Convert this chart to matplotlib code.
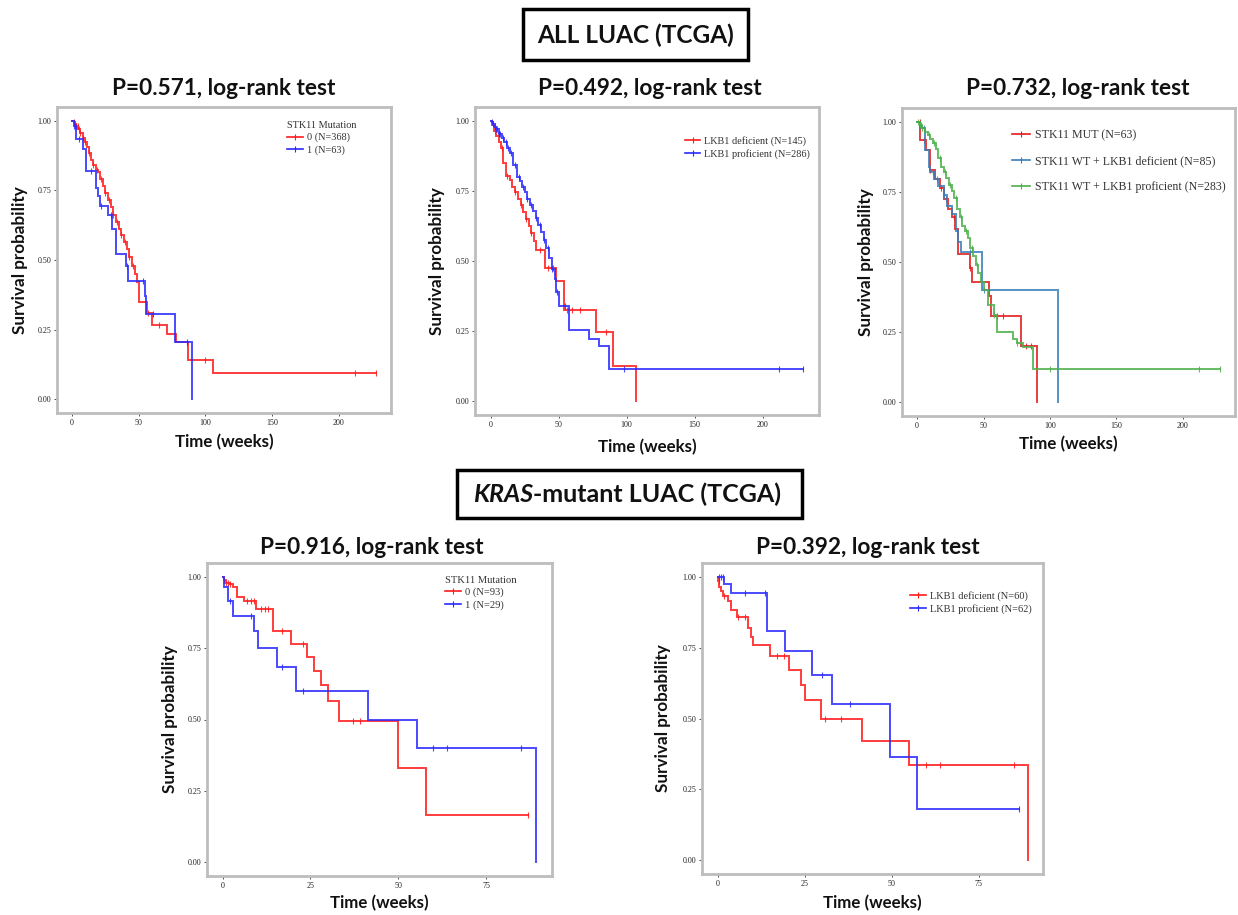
import numpy as np
import matplotlib
matplotlib.use("Agg")
import matplotlib.pyplot as plt
from matplotlib.patches import Rectangle
from matplotlib.lines import Line2D

W, H = 1238, 915

# ---------------- data ----------------
# Panel 1: ALL LUAC, STK11 mutation
p1_red_t = [0, 1, 2, 3, 4.5, 6, 8, 9.5, 11, 12.5, 14.5, 16, 18, 19.5, 21, 23, 25, 27, 29, 31, 33, 35,
            37, 39, 41, 43, 45, 47, 49, 50, 56, 60, 71, 78, 87, 106]
p1_red_s = [1.0, 0.995, 0.99, 0.98, 0.97, 0.955, 0.94, 0.925, 0.905, 0.885, 0.86, 0.84, 0.825, 0.815,
            0.79, 0.765, 0.74, 0.715, 0.69, 0.66, 0.635, 0.61, 0.59, 0.565, 0.54, 0.51, 0.48, 0.45, 0.42,
            0.35, 0.31, 0.265, 0.235, 0.205, 0.14, 0.095]
p1_red_end = 228
p1_red_cens = [1, 2, 3, 4, 5, 6, 8, 10, 13, 16, 19, 22, 25, 28, 31, 34, 37, 40, 43, 46, 57, 65, 100, 212, 228]
p1_blue_t = [0, 1, 3, 8, 10.5, 18, 19.5, 21, 27, 30, 33, 40.3, 41.6, 54.5, 55.7, 77.5, 90]
p1_blue_s = [1.0, 0.98, 0.936, 0.90, 0.82, 0.76, 0.73, 0.694, 0.66, 0.612, 0.522, 0.48, 0.426, 0.372,
             0.306, 0.204, 0.0]
p1_blue_end = 90
p1_blue_cens = [1, 2, 5, 14, 22, 29, 41, 53, 61, 86]

# Panel 2: ALL LUAC, LKB1 status
p2_red_t = [0, 1, 2.5, 4, 6, 7.5, 9, 11, 14, 16, 18, 20, 22, 24, 26, 28, 30, 32, 33.5, 39.7, 48, 54,
            77.6, 90, 107]
p2_red_s = [1.0, 0.985, 0.965, 0.945, 0.925, 0.905, 0.85, 0.805, 0.79, 0.765, 0.745, 0.72, 0.70, 0.675,
            0.65, 0.625, 0.60, 0.57, 0.54, 0.475, 0.43, 0.325, 0.245, 0.125, 0.0]
p2_red_end = 107
p2_red_cens = [3, 8, 12, 18, 22, 26, 30, 36, 42, 46, 56, 60, 66, 85]
p2_blue_t = [0, 1, 2, 3, 4, 6, 8, 10, 12, 14, 16.4, 19.6, 21.3, 23, 25, 27, 29, 31, 33, 35, 37, 39, 41,
             43, 45, 47, 48.2, 50, 58, 72.7, 80, 87.4]
p2_blue_s = [1.0, 0.995, 0.99, 0.98, 0.97, 0.955, 0.94, 0.925, 0.905, 0.885, 0.843, 0.80, 0.785, 0.765,
             0.745, 0.72, 0.70, 0.68, 0.655, 0.63, 0.605, 0.575, 0.545, 0.51, 0.47, 0.435, 0.39, 0.34,
             0.255, 0.22, 0.196, 0.113]
p2_blue_end = 230
p2_blue_cens = [1, 2, 3, 4, 5, 6, 7, 9, 11, 13, 15, 18, 21, 24, 27, 30, 33, 36, 39, 42, 45, 49, 55, 98,
                212, 230]

# Panel 3: ALL LUAC, three groups
p3_red_t = [0, 2.5, 7, 10, 13.75, 17.5, 20, 23, 26, 28.75, 31, 40, 41, 54, 55.5, 78, 90.5]
p3_red_s = [1.0, 0.937, 0.90, 0.83, 0.795, 0.765, 0.724, 0.688, 0.66, 0.617, 0.528, 0.477, 0.43, 0.38,
            0.306, 0.20, 0.0]
p3_red_end = 90.5
p3_red_cens = [2, 5, 10, 18, 22, 28, 40, 60, 65, 82, 86]
p3_blue_t = [0, 2, 6.25, 8.75, 10, 12.5, 16, 20, 22.5, 26, 29.5, 31, 33, 48.75, 106]
p3_blue_s = [1.0, 0.98, 0.90, 0.84, 0.82, 0.795, 0.77, 0.74, 0.70, 0.67, 0.61, 0.57, 0.534, 0.40, 0.0]
p3_blue_end = 106
p3_blue_cens = [5, 12, 15, 20, 30, 40, 50]
p3_green_t = [0, 2, 4, 6, 8, 10, 12, 14, 16, 18, 20, 22, 24, 26, 28, 30, 32, 34, 36, 38, 40, 42, 44,
              46, 48, 50, 53, 58, 60, 72, 75, 80, 87]
p3_green_s = [1.0, 0.99, 0.98, 0.965, 0.955, 0.94, 0.925, 0.905, 0.87, 0.84, 0.82, 0.80, 0.775, 0.755,
              0.73, 0.69, 0.66, 0.63, 0.61, 0.585, 0.55, 0.52, 0.49, 0.46, 0.43, 0.40, 0.345, 0.31, 0.25,
              0.225, 0.21, 0.195, 0.117]
p3_green_end = 228
p3_green_cens = [1, 2, 3, 4, 6, 9, 13, 17, 21, 25, 29, 33, 37, 41, 45, 56, 58, 75, 100, 212, 228]

# Panel 4: KRAS-mutant, STK11 mutation
p4_red_t = [0, 0.5, 1, 2, 3, 4, 6, 9.5, 14.3, 19.5, 24, 26, 28, 30, 33, 50, 58]
p4_red_s = [1.0, 0.99, 0.98, 0.975, 0.965, 0.93, 0.915, 0.89, 0.81, 0.765, 0.72, 0.67, 0.62, 0.565,
            0.495, 0.33, 0.165]
p4_red_end = 87
p4_red_cens = [0.5, 1, 1.5, 2, 7, 8, 9, 11, 12, 13, 17, 23, 37, 39, 87]
p4_blue_t = [0, 0.3, 1.5, 3, 9, 10, 15.5, 21, 41.5, 55.3, 89.3]
p4_blue_s = [1.0, 0.965, 0.915, 0.865, 0.81, 0.75, 0.685, 0.60, 0.50, 0.40, 0.0]
p4_blue_end = 89.3
p4_blue_cens = [2, 8, 17, 23, 60, 64, 85]

# Panel 5: KRAS-mutant, LKB1 status
p5_red_t = [0, 0.2, 0.5, 1, 1.5, 3, 4, 5.5, 8.7, 9.5, 10.3, 15.2, 20.5, 24, 25, 29.7, 41.5, 55, 89]
p5_red_s = [1.0, 0.985, 0.965, 0.95, 0.935, 0.915, 0.885, 0.86, 0.82, 0.79, 0.76, 0.72, 0.67, 0.62,
            0.565, 0.50, 0.42, 0.335, 0.0]
p5_red_end = 89
p5_red_cens = [0.3, 2, 6, 8, 17, 19, 31, 35.5, 60, 64, 85]
p5_blue_t = [0, 2, 4, 14.3, 19.3, 27, 32.8, 49.5, 57.3]
p5_blue_s = [1.0, 0.975, 0.945, 0.81, 0.74, 0.655, 0.55, 0.365, 0.18]
p5_blue_end = 86.5
p5_blue_cens = [0.5, 1, 1.5, 8, 13.5, 30, 38, 86.5]

p1_labels = ["0 (N=368)", "1 (N=63)"]
p2_labels = ["LKB1 deficient (N=145)", "LKB1 proficient (N=286)"]
p3_labels = ["STK11 MUT (N=63)", "STK11 WT + LKB1 deficient (N=85)", "STK11 WT + LKB1 proficient (N=283)"]
p4_labels = ["0 (N=93)", "1 (N=29)"]
p5_labels = ["LKB1 deficient (N=60)", "LKB1 proficient (N=62)"]
titles = ["P=0.571, log-rank test", "P=0.492, log-rank test", "P=0.732, log-rank test",
          "P=0.916, log-rank test", "P=0.392, log-rank test"]
yticks = [0.0, 0.25, 0.5, 0.75, 1.0]
xticks_all = [0, 50, 100, 150, 200]
xticks_kras = [0, 25, 50, 75]

RED, BLUE = "#ff1a1a", "#2a2aff"
S_RED, S_BLUE, S_GREEN = "#e41a1c", "#377eb8", "#4daf4a"
SANS = "Lato"
SERIF = "Liberation Serif"

fig = plt.figure(figsize=(W / 100, H / 100), dpi=100)


def ax_at(l, r, t, b):
    return fig.add_axes([l / W, 1 - b / H, (r - l) / W, (b - t) / H])


def surv_at(t_list, s_list, x):
    idx = np.searchsorted(np.asarray(t_list), x, side="right") - 1
    return np.asarray(s_list)[idx]


def curve(ax, t, s, end, cens, color):
    tt = list(t) + [end]
    ss = list(s) + [s[-1]]
    ax.step(tt, ss, where="post", color=color, lw=1.4, alpha=0.85, solid_joinstyle="miter")
    cx = np.asarray(cens, dtype=float)
    ax.plot(cx, surv_at(t, s, cx), ls="none", marker="|", ms=4, mew=0.8, color=color, alpha=0.85)


def style(ax, xmax, xticks, title, title_xy, xlabel_y, ylabel_x):
    ax.set_xlim(-0.05 * xmax, 1.05 * xmax)
    ax.set_ylim(-0.05, 1.05)
    ax.set_xticks(xticks)
    ax.set_yticks(yticks)
    ax.set_xticklabels([str(v) for v in xticks], fontfamily=SERIF, fontsize=5.8, color="#222222")
    ax.set_yticklabels(["%.2f" % v for v in yticks], fontfamily=SERIF, fontsize=5.8, color="#222222")
    ax.tick_params(length=2, width=0.6, color="#333333", pad=2)
    for sp in ax.spines.values():
        sp.set_color("#bdbdbd")
        sp.set_linewidth(2.0)
    bb = ax.get_position()
    fig.text(title_xy[0] / W, 1 - title_xy[1] / H, title, ha="center", va="center",
             fontfamily=SANS, fontweight="bold", fontsize=16.3, color="#111111")
    fig.text((bb.x0 + bb.x1) / 2, 1 - xlabel_y / H, "Time (weeks)", ha="center", va="center",
             fontfamily=SANS, fontweight="bold", fontsize=12.2, color="#111111")
    fig.text(ylabel_x / W, (bb.y0 + bb.y1) / 2, "Survival probability", ha="center", va="center",
             rotation=90, fontfamily=SANS, fontweight="bold", fontsize=12.3, color="#111111")


def legend(ax, labels, colors, x, y, title=None, size=7.2, spacing=0.3):
    handles = [Line2D([0], [0], color=c, lw=1.2, marker="|", ms=4, mew=0.8) for c in colors]
    lg = ax.legend(handles, labels, loc="upper left", bbox_to_anchor=(x, y), frameon=False,
                   title=title, prop={"family": SERIF, "size": size}, handlelength=1.5,
                   handletextpad=0.4, labelspacing=spacing, borderpad=0, borderaxespad=0)
    if title:
        lg.get_title().set_fontfamily(SERIF)
        lg.get_title().set_fontsize(size)
        lg.get_title().set_color("#333333")
        lg._legend_box.align = "left"
    for txt in lg.get_texts():
        txt.set_color("#333333")


# Panel 1
ax1 = ax_at(57, 391, 107, 413)
curve(ax1, p1_red_t, p1_red_s, p1_red_end, p1_red_cens, RED)
curve(ax1, p1_blue_t, p1_blue_s, p1_blue_end, p1_blue_cens, BLUE)
style(ax1, 228, xticks_all, titles[0], (224, 88), 442, 20)
legend(ax1, p1_labels, [RED, BLUE], 0.69, 0.955, title="STK11 Mutation", size=7.4)

# Panel 2
ax2 = ax_at(475, 819, 107, 415)
curve(ax2, p2_red_t, p2_red_s, p2_red_end, p2_red_cens, RED)
curve(ax2, p2_blue_t, p2_blue_s, p2_blue_end, p2_blue_cens, BLUE)
style(ax2, 230, xticks_all, titles[1], (650, 88), 447, 437)
legend(ax2, p2_labels, [RED, BLUE], 0.61, 0.905, size=7.4)

# Panel 3
ax3 = ax_at(902, 1235, 108, 416)
curve(ax3, p3_red_t, p3_red_s, p3_red_end, p3_red_cens, S_RED)
curve(ax3, p3_blue_t, p3_blue_s, p3_blue_end, p3_blue_cens, S_BLUE)
curve(ax3, p3_green_t, p3_green_s, p3_green_end, p3_green_cens, S_GREEN)
style(ax3, 228, xticks_all, titles[2], (1078, 88), 444, 866)
legend(ax3, p3_labels, [S_RED, S_BLUE, S_GREEN], 0.33, 0.93, size=8.6, spacing=1.15)

# Panel 4
ax4 = ax_at(207, 552, 563, 876)
curve(ax4, p4_red_t, p4_red_s, p4_red_end, p4_red_cens, RED)
curve(ax4, p4_blue_t, p4_blue_s, p4_blue_end, p4_blue_cens, BLUE)
style(ax4, 89.3, xticks_kras, titles[3], (372, 548), 903, 170)
legend(ax4, p4_labels, [RED, BLUE], 0.69, 0.96, title="STK11 Mutation", size=7.6)

# Panel 5
ax5 = ax_at(702, 1043, 563, 874)
curve(ax5, p5_red_t, p5_red_s, p5_red_end, p5_red_cens, RED)
curve(ax5, p5_blue_t, p5_blue_s, p5_blue_end, p5_blue_cens, BLUE)
style(ax5, 89, xticks_kras, titles[4], (868, 548), 903, 663)
legend(ax5, p5_labels, [RED, BLUE], 0.61, 0.91, size=7.5)

# Header boxes
fig.text(635.5 / W, 1 - 35 / H, "ALL LUAC (TCGA)", ha="center", va="center",
         fontfamily=SANS, fontweight="bold", fontsize=17.6, color="#111111")
fig.patches.append(Rectangle((523 / W, 1 - 60 / H), (748 - 523) / W, (60 - 9) / H,
                             transform=fig.transFigure, fill=False, lw=2.5, ec="black"))

renderer = fig.canvas.get_renderer()
t_it = fig.text(0, 1 - 494 / H, "KRAS", ha="left", va="center", fontfamily=SANS,
                fontweight="bold", fontstyle="italic", fontsize=18, color="#111111")
t_rest = fig.text(0, 1 - 494 / H, "-mutant LUAC (TCGA)", ha="left", va="center", fontfamily=SANS,
                  fontweight="bold", fontsize=18, color="#111111")
w1 = t_it.get_window_extent(renderer).width
w2 = t_rest.get_window_extent(renderer).width
x0 = 627 - (w1 + w2) / 2
t_it.set_x(x0 / W)
t_rest.set_x((x0 + w1) / W)
fig.patches.append(Rectangle((457 / W, 1 - 518 / H), (802 - 457) / W, (518 - 470) / H,
                             transform=fig.transFigure, fill=False, lw=2.5, ec="black"))

fig.savefig("out.png", dpi=100, facecolor="white")
